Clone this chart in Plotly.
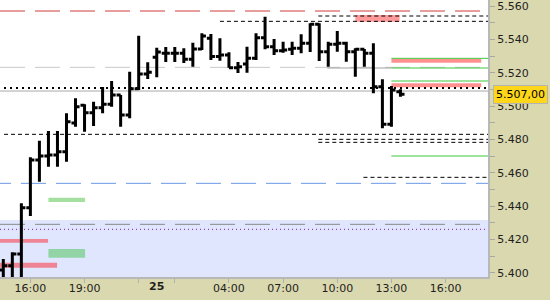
import plotly.graph_objects as go

# ---------------- data ----------------
bar_index = list(range(45))
opens = [5.4016, 5.4042, 5.4112, 5.4390, 5.4676, 5.4700, 5.4706, 5.4726, 5.4898, 5.5004,
         5.4960, 5.4990, 5.5010, 5.5066, 5.4946, 5.5104, 5.5192, 5.5292, 5.5316, 5.5316,
         5.5316, 5.5280, 5.5342, 5.5406, 5.5297, 5.5306, 5.5230, 5.5252, 5.5286, 5.5410,
         5.5356, 5.5332, 5.5340, 5.5346, 5.5376, 5.5490, 5.5326, 5.5370, 5.5376, 5.5326,
         5.5340, 5.5316, 5.5116, 5.4890, 5.5086]
highs = [5.4082, 5.4122, 5.4416, 5.4692, 5.4792, 5.4850, 5.4850, 5.4956, 5.5046, 5.5010,
         5.5026, 5.5114, 5.5150, 5.5066, 5.5206, 5.5422, 5.5262, 5.5350, 5.5354, 5.5354,
         5.5346, 5.5380, 5.5436, 5.5432, 5.5406, 5.5322, 5.5264, 5.5356, 5.5436, 5.5536,
         5.5402, 5.5386, 5.5386, 5.5430, 5.5496, 5.5496, 5.5386, 5.5450, 5.5386, 5.5346,
         5.5342, 5.5376, 5.5160, 5.5120, 5.5100]
lows = [5.3950, 5.3960, 5.3950, 5.4340, 5.4546, 5.4636, 5.4636, 5.4666, 5.4876, 5.4846,
        5.4880, 5.4956, 5.4996, 5.4876, 5.4926, 5.5096, 5.5162, 5.5172, 5.5264, 5.5264,
        5.5258, 5.5236, 5.5336, 5.5276, 5.5272, 5.5230, 5.5198, 5.5200, 5.5276, 5.5340,
        5.5306, 5.5320, 5.5306, 5.5316, 5.5324, 5.5270, 5.5236, 5.5326, 5.5266, 5.5176,
        5.5236, 5.5076, 5.4866, 5.4876, 5.5056]
closes = [5.4042, 5.4112, 5.4390, 5.4676, 5.4700, 5.4706, 5.4726, 5.4906, 5.4996, 5.4960,
          5.4990, 5.5010, 5.5066, 5.4946, 5.5104, 5.5192, 5.5202, 5.5324, 5.5316, 5.5316,
          5.5280, 5.5342, 5.5420, 5.5297, 5.5306, 5.5230, 5.5236, 5.5286, 5.5410, 5.5356,
          5.5332, 5.5336, 5.5346, 5.5376, 5.5490, 5.5326, 5.5370, 5.5376, 5.5326, 5.5340,
          5.5316, 5.5116, 5.4890, 5.5096, 5.5070]

last_price = 5.507
last_price_text = "5.507,00"

# x-axis ticks (bar index) and labels
tick_positions = [3, 9, 15, 19, 25, 31, 37, 43, 49]
tick_labels = ["16:00", "19:00", "", "", "04:00", "07:00", "10:00", "13:00", "16:00"]
day_label = "25"
day_label_pos = 17

# y-axis labels
y_tick_values = [5.40, 5.42, 5.44, 5.46, 5.48, 5.50, 5.52, 5.54, 5.56]

# horizontal levels
red_level = 5.5570
light_gray_level = 5.5232
dotted_level = 5.5108
gray_solid_level = 5.5090
blue_level = 5.4536
gray_dash_level = 5.4290
purple_level = 5.4260
zone_top = 5.4316
black_dash_full_levels = [5.4830]
black_dash_partial_levels = [5.5540, 5.5508, 5.4800, 5.4782, 5.4572]
black_dash_partial_starts = [34.9, 24.0, 34.9, 34.9, 39.9]
dark_gray_seg_level = 5.5228
dark_gray_seg_span = [35.9, 43.0]
green_line_levels = [5.5286, 5.5228, 5.5150, 5.4700]
green_line_start = 43.0

pink_low = [5.5506, 5.5260, 5.5112, 5.4180, 5.4030]
pink_high = [5.5546, 5.5284, 5.5136, 5.4202, 5.4060]
pink_start = [39.0, 43.0, 43.0, None, None]
pink_end = [43.9, 52.95, 52.95, 4.96, 5.96]

green_zone_low = [5.4424, 5.4090]
green_zone_high = [5.4450, 5.4142]
green_zone_start = [5.0, 5.0]
green_zone_end = [9.06, 9.06]

# ---------------- styling / layout ----------------
X_MIN, X_MAX = -0.366, 53.70
Y_MIN, Y_MAX = 5.3974, 5.5636
PX = 1 / 9.016  # one pixel in bar-index units

pink_colors = ["#ff9a9a", "#ff9090", "#ff9090", "#ef8494", "#ef8494"]
green_zone_colors = ["#a6e0a0", "#92d4a6"]

shapes = []

# blue-ish zone
shapes.append(dict(type="rect", xref="x", yref="y", x0=X_MIN - 1, x1=X_MAX + 1,
                   y0=Y_MIN - 0.01, y1=zone_top, fillcolor="#dfe6fd",
                   line=dict(width=0), layer="below"))

for lo, hi, s, e, c in zip(pink_low, pink_high, pink_start, pink_end, pink_colors):
    shapes.append(dict(type="rect", xref="x", yref="y",
                       x0=(X_MIN - 1) if s is None else s, x1=e,
                       y0=lo, y1=hi, fillcolor=c, line=dict(width=0), layer="below"))

for lo, hi, s, e, c in zip(green_zone_low, green_zone_high, green_zone_start,
                           green_zone_end, green_zone_colors):
    shapes.append(dict(type="rect", xref="x", yref="y", x0=s, x1=e,
                       y0=lo, y1=hi, fillcolor=c, line=dict(width=0), layer="below"))


def hline(y, x0, x1, color, width, dash):
    shapes.append(dict(type="line", xref="x", yref="y", x0=x0, x1=x1, y0=y, y1=y,
                       line=dict(color=color, width=width, dash=dash), layer="below"))


long_dash = "25px,10px"
hline(red_level, X_MIN, X_MAX + 1, "#d23c3c", 1, long_dash)
hline(light_gray_level, X_MIN, X_MAX + 1, "#c8c8c8", 1, long_dash)
hline(blue_level, X_MIN - 14 * PX, X_MAX + 1, "#6a98e6", 1, long_dash)
hline(gray_dash_level, X_MIN, X_MAX + 1, "#8a8a8a", 1, long_dash)
hline(purple_level, X_MIN, X_MAX + 1, "#8a1aa8", 1, "1px,3px")
hline(gray_solid_level, X_MIN, X_MAX + 1, "#a8a8a8", 1, "solid")
hline(dark_gray_seg_level, dark_gray_seg_span[0], dark_gray_seg_span[1], "#a0a0a0", 1, "solid")
hline(dotted_level, X_MIN + 4 * PX, X_MAX + 1, "#000000", 2, "2px,4px")
for lv in black_dash_full_levels:
    hline(lv, X_MIN + 4 * PX, X_MAX + 1, "#000000", 1, "4px,3px")
for lv, s in zip(black_dash_partial_levels, black_dash_partial_starts):
    hline(lv, s, X_MAX + 1, "#000000", 1, "4px,3px")
for lv in green_line_levels:
    hline(lv, green_line_start, X_MAX + 1, "#3cc83c", 1, "solid")

fig = go.Figure()
fig.add_trace(go.Ohlc(
    x=bar_index, open=opens, high=highs, low=lows, close=closes,
    increasing=dict(line=dict(color="#000000", width=3)),
    decreasing=dict(line=dict(color="#000000", width=3)),
    tickwidth=0.45, hoverinfo="skip", showlegend=False,
))

axis_font = dict(family="DejaVu Sans", size=11, color="#1e1e1e")

fig.update_layout(
    width=550, height=300, autosize=False,
    margin=dict(l=0, r=62, t=0, b=23, pad=0),
    paper_bgcolor="#dad8ae", plot_bgcolor="#ffffff",
    shapes=shapes, showlegend=False,
    xaxis=dict(range=[X_MIN, X_MAX], tickmode="array", tickvals=tick_positions,
               ticktext=tick_labels, ticks="outside", ticklen=4, tickcolor="#b0b0b0",
               showline=True, linecolor="#b8b8b8", linewidth=2, showgrid=False,
               zeroline=False, tickfont=axis_font, rangeslider=dict(visible=False),
               ticklabelstandoff=-4, fixedrange=True),
    yaxis=dict(range=[Y_MIN, Y_MAX], side="right", tickmode="array",
               tickvals=y_tick_values, tickformat=".3f", ticks="outside", ticklen=5,
               tickcolor="#a8a8a8", showline=True, linecolor="#b8b8b8", linewidth=2,
               showgrid=False, zeroline=False, tickfont=axis_font, fixedrange=True,
               ticklabeloverflow="allow",
               minor=dict(dtick=0.01, tick0=5.40, ticks="outside", ticklen=5,
                          tickcolor="#a8a8a8", showgrid=False)),
    annotations=[
        dict(x=day_label_pos, xref="x", y=0, yref="paper", yanchor="top",
             yshift=-1, text="<b>" + day_label + "</b>", showarrow=False,
             font=dict(family="DejaVu Sans", size=11, color="#1e1e1e")),
        dict(x=1, xref="paper", xanchor="left", xshift=5, y=last_price, yref="y",
             text=last_price_text, showarrow=False, bgcolor="#ffd71a",
             bordercolor="#b4b4b4", borderwidth=1, borderpad=2,
             font=dict(family="DejaVu Sans", size=11, color="#000000")),
    ],
)

fig.write_html("out.html", config=dict(displayModeBar=False))
